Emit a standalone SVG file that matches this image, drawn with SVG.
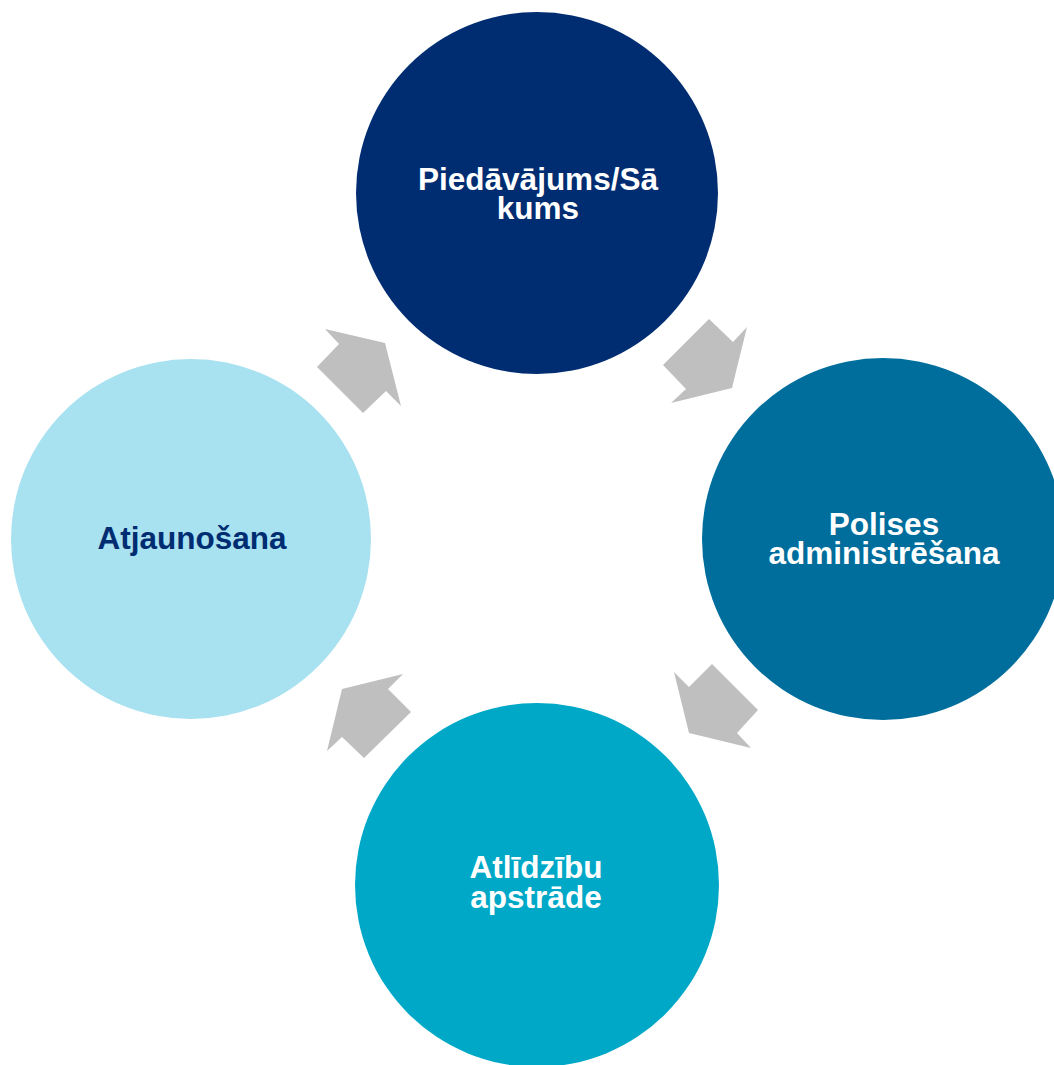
<svg xmlns="http://www.w3.org/2000/svg" width="1054" height="1065" viewBox="0 0 1054 1065">
<style>
.lbl{font-family:"Liberation Sans",Arial,sans-serif;font-weight:bold;font-size:31.5px;text-anchor:middle}
.w{fill:#FFFFFF}
.d{fill:#002D72}
.arr{fill:#BFBFBF}
</style>
<rect width="1054" height="1065" fill="#FFFFFF"/>
<g id="node-top">
<circle cx="537" cy="193" r="181" fill="#002D72"/>
<text class="lbl w" x="538" y="190">Piedāvājums/Sā</text>
<text class="lbl w" x="538" y="219">kums</text>
</g>
<g id="node-right">
<circle cx="883" cy="539" r="181" fill="#006E9C"/>
<text class="lbl w" x="884" y="535">Polises</text>
<text class="lbl w" x="884" y="564">administrēšana</text>
</g>
<g id="node-bottom">
<circle cx="537" cy="885" r="182" fill="#00A8C8"/>
<text class="lbl w" x="536" y="878">Atlīdzību</text>
<text class="lbl w" x="536" y="908">apstrāde</text>
</g>
<g id="node-left">
<circle cx="191" cy="539" r="180" fill="#A8E1F0"/>
<text class="lbl d" x="192" y="549">Atjaunošana</text>
</g>
<g id="connectors">
<polygon class="arr" points="325,329 385,343 401,406 386,391 363,413 317,367 339,344"/>
<polygon class="arr" points="709,319 733,342 747,327 732,388 671,403 686,389 663,365"/>
<polygon class="arr" points="712,664 758,710 737,733 751,748 689,733 674,672 689,687"/>
<polygon class="arr" points="403,674 388,689 411,712 364,758 342,737 327,751 342,689"/>
</g>
</svg>
